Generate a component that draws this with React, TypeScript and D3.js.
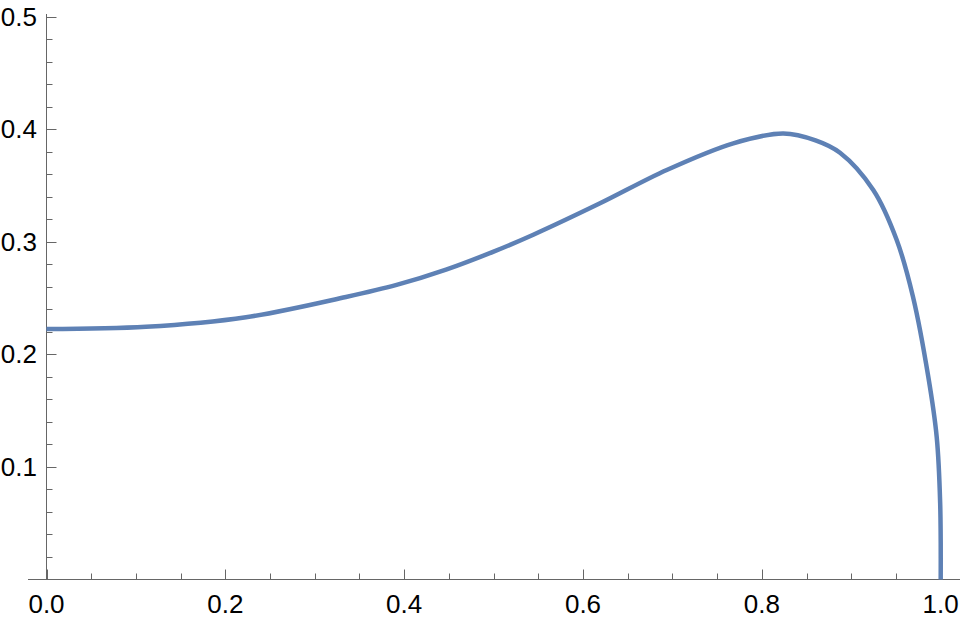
import React from "react";
import * as d3 from "d3";

const xValues = [0, 0.1113, 0.2231, 0.3349, 0.3915, 0.4468, 0.5, 0.5444, 0.619, 0.6936, 0.7681, 0.824, 0.86, 0.8874, 0.9246, 0.9508, 0.969, 0.9861, 0.9955, 0.9994, 1.0];
const yValues = [0.2224, 0.2244, 0.2329, 0.2509, 0.2616, 0.2752, 0.2912, 0.3062, 0.3341, 0.3637, 0.3874, 0.3961, 0.39, 0.379, 0.3459, 0.3015, 0.2511, 0.1801, 0.1267, 0.0679, 0];

const xMajorTicks = [0, 0.2, 0.4, 0.6, 0.8, 1.0];
const xMinorTicks = [0.05, 0.1, 0.15, 0.25, 0.3, 0.35, 0.45, 0.5, 0.55, 0.65, 0.7, 0.75, 0.85, 0.9, 0.95];
const yMajorTicks = [0.1, 0.2, 0.3, 0.4, 0.5];
const yMinorTicks = [0.02, 0.04, 0.06, 0.08, 0.12, 0.14, 0.16, 0.18, 0.22, 0.24, 0.26, 0.28, 0.32, 0.34, 0.36, 0.38, 0.42, 0.44, 0.46, 0.48];

const W = 960;
const H = 618;

export default function App() {
  const x = d3.scaleLinear().domain([0, 1]).range([46.5, 940.7]);
  const y = d3.scaleLinear().domain([0, 0.5]).range([579.5, 16.5]);
  const pts: [number, number][] = xValues.map((v, i) => [v, yValues[i]]);
  const line = d3
    .line<[number, number]>()
    .x((d) => x(d[0]))
    .y((d) => y(d[1]))
    .curve(d3.curveCatmullRom.alpha(0.5));
  const axisColor = "#666666";
  const font = "'Liberation Sans', Arial, sans-serif";
  const y0 = y(0);
  const x0 = x(0);
  return (
    <svg
      width={W}
      height={H}
      style={{ position: "absolute", left: 0, top: 0, display: "block", background: "#fff" }}
    >
      {/* x axis */}
      <line x1={28} x2={960} y1={y0} y2={y0} stroke={axisColor} strokeWidth={1} />
      {xMajorTicks.map((t) => (
        <line key={"xM" + t} x1={Math.round(x(t)) + 0.5} x2={Math.round(x(t)) + 0.5} y1={y0} y2={y0 - 10} stroke={axisColor} strokeWidth={1} />
      ))}
      {xMinorTicks.map((t) => (
        <line key={"xm" + t} x1={Math.round(x(t)) + 0.5} x2={Math.round(x(t)) + 0.5} y1={y0} y2={y0 - 6} stroke={axisColor} strokeWidth={1} />
      ))}
      {xMajorTicks.map((t) => (
        <text key={"xl" + t} x={x(t)} y={603.5} textAnchor="middle" dominantBaseline="central" fontFamily={font} fontSize={26} fill="#000">
          {t.toFixed(1)}
        </text>
      ))}
      {/* y axis */}
      <line x1={x0} x2={x0} y1={14} y2={y0} stroke={axisColor} strokeWidth={1} />
      {yMajorTicks.map((t) => (
        <line key={"yM" + t} x1={x0} x2={x0 + 10} y1={Math.round(y(t)) + 0.5} y2={Math.round(y(t)) + 0.5} stroke={axisColor} strokeWidth={1} />
      ))}
      {yMinorTicks.map((t) => (
        <line key={"ym" + t} x1={x0} x2={x0 + 6} y1={Math.round(y(t)) + 0.5} y2={Math.round(y(t)) + 0.5} stroke={axisColor} strokeWidth={1} />
      ))}
      {yMajorTicks.map((t) => (
        <text key={"yl" + t} x={37} y={y(t)} textAnchor="end" dominantBaseline="central" fontFamily={font} fontSize={26} fill="#000">
          {t.toFixed(1)}
        </text>
      ))}
      {/* curve */}
      <path d={line(pts) || ""} fill="none" stroke="#5E81B5" strokeWidth={4.5} strokeLinejoin="round" />
    </svg>
  );
}
